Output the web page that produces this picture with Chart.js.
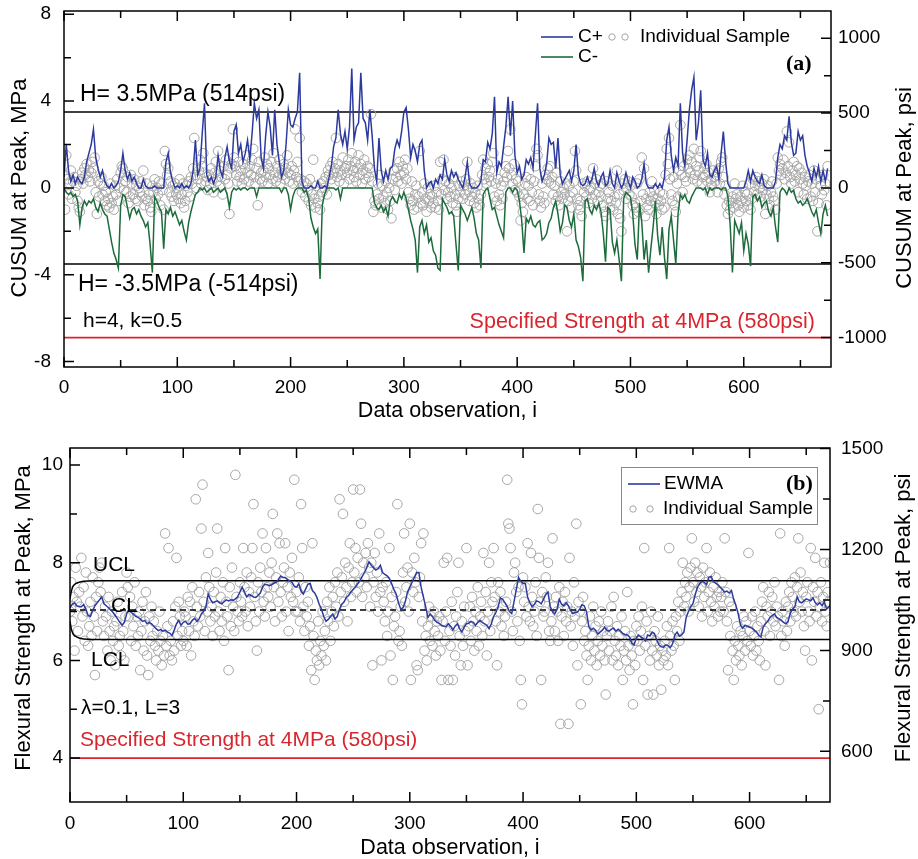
<!DOCTYPE html>
<html>
<head>
<meta charset="utf-8">
<script src="https://cdn.jsdelivr.net/npm/chart.js@4.4.1/dist/chart.umd.min.js"></script>
<style>
  body { margin: 0; background: #fff; }
  #wrap { position: relative; width: 918px; height: 859px; }
  canvas { position: absolute; left: 0; }
</style>
</head>
<body>
<div id="wrap">
  <canvas id="cusum" width="918" height="430" style="top:0"></canvas>
  <canvas id="ewma" width="918" height="429" style="top:430px"></canvas>
</div>
<script>
const FONT = "'Liberation Sans', Arial, sans-serif";
const PSI = 145.038;
const RED = '#d9262e';
const BLUE = '#2c3a9e';
const GREEN = '#1c6b3b';
const GREY = '#a6a6a6';

// control statistics were read every 2nd observation
const lineObs = Array.from({ length: 338 }, (_, k) => 2 * k);
const sampleObs = Array.from({ length: 675 }, (_, k) => k);

const cPlus = [
  0.5, 2.0, 0.8, 0.3, 0.6, 0.2, 0.5, 0.3, 0.2, 0.5, 1.2, 1.6, 2.0, 2.7, 1.4, 0.9, 0.5, 0.8, 0.3, 0.1, 0, 0.2, 0, 0.1, 0.3,
  0.8, 1.6, 0.8, 0.4, 0.7, 0.3, 0.5, 0.2, 0, 0, 0.4, 0.1, 0, 0, 0, 0.1, 0, 0, 0, 0, 1.2, 1.6, 0.7, 0.3, 0,
  0.1, 0, 0.2, 0, 0.1, 0, 0.2, 0.8, 2.2, 0.6, 0.9, 2.5, 3.9, 0.6, 0.3, 0.5, 0.2, 0.5, 1.5, 0.8, 0.5, 1.4, 1.9, 1.2, 0.9,
  2.6, 2.9, 1.6, 2.0, 1.2, 1.6, 2.2, 1.3, 2.5, 3.9, 3.2, 3.6, 1.4, 0.9, 2.4, 3.5, 2.8, 1.5, 3.6, 2.0, 1.2, 0.5, 0.8, 2.0, 3.6,
  2.9, 2.8, 3.2, 3.5, 5.3, 0.3, 0, 0, 0, 0.1, 0, 0, 0.3, 0, 0, 0.1, 0, 0.5, 1.0, 1.9, 2.3, 3.6, 2.5, 2.0, 2.6,
  1.8, 2.8, 5.5, 2.2, 2.8, 3.0, 5.3, 3.2, 3.0, 2.2, 3.6, 2.4, 0.9, 0.3, 2.3, 0.8, 0.3, 0.8, 0.4, 0.9, 1.0, 1.8, 2.2, 1.9, 2.6,
  3.5, 3.7, 2.7, 1.4, 2.0, 1.7, 1.2, 2.0, 2.2, 0.8, 0, 0.2, 0.3, 0, 0.4, 0.2, 0.6, 0.4, 1.3, 0.6, 0.3, 0.8, 0.5, 0.7, 0.4,
  0.2, 0, 0.5, 1.2, 0.2, 0, 0, 0, 0.1, 0.3, 1.3, 1.2, 2.1, 1.8, 2.5, 4.2, 0.7, 1.2, 1.0, 1.9, 2.8, 4.2, 2.4, 4.0, 1.5,
  0.7, 1.0, 0.4, 0.6, 1.3, 1.1, 1.4, 0.9, 2.4, 3.9, 0.9, 0.3, 0.6, 1.1, 2.3, 2.0, 2.1, 0.9, 2.3, 0.6, 0.2, 0.4, 0.6, 0.8, 0.3,
  0.8, 2.0, 0.6, 0.2, 0.1, 0.2, 0.5, 0.2, 0.4, 0.9, 0.3, 0.1, 0.5, 0.7, 0.1, 0.2, 0.8, 0.2, 0, 0.7, 0.3, 0, 0.2, 0.7, 0.3,
  0, 0.5, 0.3, 0, 0.1, 0.4, 1.1, 0.2, 0, 0, 0, 0.2, 0, 0.2, 0, 0.5, 2.2, 2.8, 1.5, 0.8, 1.4, 1.0, 3.9, 1.6, 1.0,
  2.2, 3.6, 4.5, 5.1, 2.2, 3.0, 4.5, 1.3, 1.0, 1.6, 0.6, 0.5, 0.8, 1.0, 0.4, 1.6, 2.6, 1.2, 0.2, 0, 0, 0, 0, 0, 0,
  0, 0.3, 0.8, 0.3, 0.8, 0.5, 0.3, 0.2, 0.6, 0.1, 0, 0, 0, 0, 0.3, 1.4, 2.0, 1.8, 2.4, 2.2, 3.3, 2.1, 1.5, 1.6, 2.6,
  2.2, 2.4, 1.5, 1.0, 0.7, 0.3, 0.9, 0.5, 1.0, 0.3, 0.8, 0.3, 0.9
];

const cMinus = [
  0, -0.2, -0.3, -0.2, -0.4, -0.3, -0.6, -1.7, -0.9, -0.6, -0.8, -0.6, -0.7, -0.5, -0.9, -1.1, -0.7, -1.0, -1.2, -1.3, -1.9, -2.5, -3.0, -3.3, -3.7,
  -0.8, -0.3, -0.4, -0.9, -1.4, -1.0, -0.9, -1.2, -1.0, -1.3, -1.5, -1.8, -1.6, -2.6, -3.9, -0.4, -0.6, -0.9, -1.1, -2.8, -1.0, -1.2, -0.9, -1.3, -1.1,
  -1.4, -1.7, -1.5, -2.0, -2.4, -1.6, -1.1, -0.7, -0.3, -0.2, 0, -0.1, 0, -0.2, -0.1, 0, -0.2, -0.1, 0, -0.2, -0.1, 0, -0.3, -0.9, -0.2,
  0, -0.1, 0, -0.1, 0, 0, -0.1, 0, 0, 0, -0.4, 0, 0, 0, 0, 0, 0, 0, 0, 0, 0, -0.2, 0, 0, -0.3,
  -1.0, -0.4, -0.1, 0, 0, 0, -0.2, -0.1, -0.5, -1.4, -1.8, -2.1, -1.9, -4.2, -0.8, -0.3, 0, 0, 0, 0, -0.1, 0, -0.5, 0, 0,
  0, 0, 0, 0, 0, 0, 0, 0, 0, 0, 0, 0, -0.7, -0.9, -1.0, -0.8, -1.1, -0.9, -1.3, -0.6, -0.4, -0.6, -0.7, -0.3, -0.5,
  -0.2, -0.5, -1.0, -1.5, -1.9, -2.4, -3.9, -1.8, -1.5, -2.1, -1.7, -2.5, -2.3, -2.9, -3.1, -3.7, -3.8, -0.5, -0.7, -0.9, -1.2, -1.1, -1.3, -2.6, -3.8,
  -0.8, -1.0, -1.2, -1.5, -1.2, -0.9, -1.4, -2.1, -2.4, -3.7, -0.3, -0.1, 0, -0.5, -1.0, -0.9, -1.3, -1.7, -2.0, -2.3, -0.2, 0, 0, -0.2, 0,
  -0.1, -0.6, -1.5, -3.0, -1.4, -1.6, -1.3, -1.7, -1.8, -1.6, -1.5, -2.4, -2.3, -2.1, -1.6, -1.4, -0.9, -0.6, -1.2, -2.0, -1.6, -0.8, -0.9, -1.5, -1.8,
  -1.2, -2.4, -2.7, -3.2, -4.3, -0.6, -0.5, -1.0, -1.2, -0.8, -1.0, -0.7, -1.1, -2.1, -3.4, -0.9, -1.0, -2.5, -3.0, -2.4, -3.3, -4.3, -0.5, -0.2, -0.3,
  -0.4, -1.2, -2.6, -3.3, -0.7, -1.6, -3.3, -2.4, -3.9, -2.8, -1.8, -0.6, -2.2, -3.1, -1.8, -3.2, -4.2, -1.9, -1.3, -2.4, -3.5, -1.2, -0.3, -0.5, -0.3,
  -0.6, -0.7, -0.4, -0.2, 0, 0, 0, -0.1, 0, -0.3, 0, -0.1, 0, 0, 0, -0.1, 0, 0, -0.4, -1.7, -3.9, -1.5, -1.8, -2.1, -1.6,
  -2.9, -2.1, -2.6, -3.6, -0.4, -0.3, -0.6, -0.4, -0.9, -0.7, -0.6, -1.1, -1.3, -0.9, -1.8, -2.5, -0.2, 0, -0.1, -0.3, 0, -0.2, -0.1, -0.5, -0.7,
  -0.6, -0.8, -0.7, -0.5, -0.8, -1.1, -1.3, -1.0, -1.6, -2.1, -1.2, -0.8, -1.3
];

const cusumSample = [
  0.6, -1.0, 1.5, 0.4, -0.3, 0.2, 0.8, -0.5, 0.3, 0.5, -0.2, 0.1, -0.6, -0.9, -1.1, 0.4, 0.7, 0.2, 0.9, 0.6, 1.1, 0.5, 0.8, 0.3, 0.7,
  1.2, 0.9, 1.4, -0.2, -1.2, 0.3, -0.4, 0.2, 0.5, -0.3, 0.1, -0.6, -0.2, -0.8, -0.5, -0.9, 0.2, -0.7, -0.4, -1.0, 0.1, -0.3, 0.4, -0.6, 0.0,
  0.7, 1.0, 0.9, -0.1, 0.3, -0.2, 0.5, -0.7, -0.4, 0.6, 0.2, -0.3, 0.4, -0.5, 0.1, -0.6, 0.0, -0.2, 0.3, -0.4, 0.8, -0.8, -0.5, 0.2, -0.6,
  -0.3, -0.9, -1.1, 0.1, -0.2, 0.4, -0.5, 0.0, -0.3, 0.3, -0.8, 0.2, -0.1, -1.0, 1.7, 1.1, 0.6, 0.9, -0.2, 0.3, -0.4, 0.1, -0.6, 0.2, -0.3,
  0.0, -0.5, 0.4, -0.7, -0.3, 0.2, -0.9, -0.6, 0.1, -0.2, 0.3, -0.4, 0.5, 0.2, 0.9, 2.3, 0.6, 0.0, 0.4, 0.8, 1.3, 0.2, 1.0, 1.6, 0.7,
  0.3, 0.5, -0.1, 0.6, 0.2, 0.9, 0.4, -0.2, 0.7, 1.2, 0.3, 1.7, 0.8, 0.1, 0.5, -0.3, 1.0, 0.4, 1.3, 0.6, 0.2, -1.2, 0.9, 1.1, 2.7,
  1.4, 1.0, 0.6, 0.3, 1.2, 0.5, 0.8, 0.2, 1.1, 0.4, 0.9, 1.5, 0.7, 0.3, 1.0, 0.6, 1.3, 1.8, 0.5, 0.2, 0.9, -0.8, 1.2, 0.4, 0.7,
  0.3, 0.8, 1.4, 0.5, 1.1, 0.2, 0.9, 0.6, 1.2, 0.4, 1.6, 0.7, 0.3, 1.0, 0.5, 1.3, 0.2, 0.8, 0.6, 1.1, 0.4, 0.9, 1.5, 0.7, 0.3,
  0.6, 1.0, 0.2, 0.8, 2.7, 0.5, 1.2, 0.3, 2.3, 0.4, -0.2, 0.1, 0.3, -0.4, 0.2, -0.1, -0.6, 0.4, -0.8, -0.3, 1.3, -0.5, -0.9, 0.1, -0.7,
  -0.4, -1.0, 0.2, -0.2, 0.3, 0.0, 0.5, -0.3, 0.8, 0.6, 1.0, 0.4, 1.2, 0.7, 0.9, 2.3, 0.5, 1.1, 0.3, 0.8, 0.6, 1.4, 0.2, 0.9, 1.0,
  0.7, 1.3, 0.4, 1.0, 1.6, 0.8, 0.5, 1.2, 0.3, 0.9, 1.5, 0.6, 1.1, 0.2, 0.8, 1.3, 0.4, 0.7, 1.0, 0.5, 0.9, 3.4, 0.3, -1.1, -0.6,
  -0.8, -0.3, 0.2, -0.5, 0.6, -0.9, 0.1, -0.4, -0.7, 0.3, -0.2, -1.0, 0.0, -0.6, -1.4, 0.4, 0.8, -0.1, 0.5, 0.9, 0.3, 1.2, 0.6, 0.2, 1.0,
  0.7, 1.3, 0.4, 0.9, -0.2, -0.5, -0.8, 0.3, -0.6, -1.0, -0.3, 0.1, -0.9, -0.4, 1.7, -0.7, -0.2, -0.8, 0.2, -0.5, -1.1, 0.0, -0.6, -0.3, -0.9,
  -0.4, -0.7, 0.1, -0.9, -0.2, -0.6, -1.0, 1.2, -0.3, 0.4, 1.3, -0.1, 0.3, -0.5, -0.2, 0.2, -0.4, 0.0, -0.7, 0.5, -0.3, -0.8, -1.1, -0.5, 0.1,
  -0.2, 0.3, -0.5, 0.1, -0.3, 0.4, 1.2, -0.1, -0.6, 0.2, -0.4, 0.0, -0.7, -0.2, -0.9, 0.1, -0.5, -0.8, -0.3, 0.6, 1.3, 0.4, 0.9, 0.2, 1.1,
  0.5, 0.8, 0.3, 1.2, 1.6, -0.4, 0.2, -0.6, 0.4, -0.3, -0.8, 0.1, -0.5, 0.3, 0.7, 1.0, 0.5, 1.7, 0.9, 2.7, 0.6, 0.2, 1.1, -0.1, 0.4,
  -0.2, 0.3, -0.4, -1.5, -0.7, -1.1, -0.3, 0.2, 0.5, -0.5, 0.1, -0.6, 0.4, -0.2, -0.8, 0.3, 1.0, 1.8, 1.5, -0.3, -0.6, -0.9, 0.2, -0.4, -0.7,
  0.6, 0.4, 0.9, 0.3, 1.0, 0.2, 0.5, -0.3, 0.1, -0.6, 0.7, -0.4, -0.8, 0.3, -0.2, -0.5, 0.0, -0.3, 0.2, -2.0, -0.6, 0.1, -0.4, -0.9, -0.2,
  0.3, 1.7, 0.8, -0.5, -0.8, -1.0, -0.6, -1.3, 0.2, -0.2, 0.1, -0.4, 0.3, -0.7, -0.1, 0.0, -0.5, 0.9, 0.2, -0.3, 0.4, -0.6, -0.2, 0.1, -0.4,
  0.2, -0.8, -1.1, -1.3, 0.3, -0.5, -0.2, -0.9, -0.6, 0.1, -1.0, -0.4, -0.7, 0.8, -1.2, -0.3, -1.4, -2.0, 0.2, -0.1, 0.4, -0.5, 0.0, 0.3, -0.3,
  0.1, -0.4, -0.8, -1.2, -0.7, -0.9, 0.2, -1.1, 0.4, -0.6, 1.4, -0.3, 0.9, -1.3, -0.5, -0.8, -1.0, -0.2, -0.6, 0.3, -0.4, -0.1, -0.7, -1.2, -0.5,
  -0.8, -0.2, -0.6, -1.0, -0.3, -0.9, 0.6, 1.8, 1.1, 2.3, 0.4, -0.3, -0.6, 0.5, -0.8, -1.1, 0.2, -0.4, 0.8, 2.9, 0.6, -0.2, 1.0, 0.5, 0.3,
  1.3, 0.9, 1.5, 0.7, 1.2, 0.4, 1.8, 0.6, 1.0, 0.3, 0.8, 1.4, 1.7, 0.2, 0.5, 0.9, 0.6, 1.1, 0.3, 0.7, -0.2, 0.4, 0.1, 0.8, 0.5,
  0.3, 0.6, -0.2, 0.9, 0.2, 1.2, 1.4, 0.5, -0.3, 0.1, -0.8, -1.2, -0.6, -1.0, -0.7, -0.4, -0.9, 0.2, -0.5, -0.3, -0.8, -1.1, -0.4, -0.6, 0.1,
  -0.9, -0.2, -0.6, -0.3, -0.8, 0.2, -1.0, -0.5, 0.4, -0.2, 0.1, 0.5, -0.3, 0.3, 0.0, -0.4, 0.2, -0.1, 0.4, -1.2, -0.3, 0.1, -0.5, -0.8, -0.2,
  0.3, -0.4, -0.6, -1.0, 0.2, 1.4, 0.8, 1.1, 0.6, 0.9, 1.3, 0.4, 0.7, 2.6, 1.0, 2.1, 0.5, 0.2, 0.8, 1.2, 0.3, 0.6, 1.0, -0.2, 0.9,
  0.4, 0.7, 0.2, -0.3, 0.5, 0.1, -0.5, 0.3, 0.6, -0.4, 0.2, -0.6, 0.8, -0.2, 0.4, -2.0, -0.7, 0.5, 0.1, -0.3, 0.6, -0.1, 0.2, -0.8, 1.0
];

const ewma = [
  7.08, 7.15, 7.18, 7.12, 7.10, 7.10, 7.14, 7.05, 6.92, 6.90, 7.02, 7.12, 7.18, 7.24, 7.30, 7.16, 7.12, 7.08, 7.03, 6.98, 6.92, 6.85, 6.78, 6.72, 6.78,
  6.95, 7.05, 6.98, 6.95, 6.90, 6.88, 6.85, 6.80, 6.82, 6.75, 6.78, 6.75, 6.70, 6.65, 6.61, 6.63, 6.60, 6.62, 6.58, 6.56, 6.51, 6.62, 6.75, 6.82, 6.72,
  6.78, 6.80, 6.74, 6.75, 6.82, 6.86, 6.80, 6.85, 6.95, 7.00, 7.10, 7.36, 7.25, 7.18, 7.20, 7.22, 7.18, 7.16, 7.20, 7.24, 7.22, 7.24, 7.23, 7.26, 7.30,
  7.40, 7.50, 7.40, 7.30, 7.35, 7.33, 7.30, 7.29, 7.33, 7.38, 7.50, 7.56, 7.55, 7.53, 7.55, 7.58, 7.60, 7.66, 7.73, 7.70, 7.70, 7.66, 7.63, 7.60, 7.52,
  7.50, 7.57, 7.42, 7.36, 7.46, 7.56, 7.58, 7.43, 7.38, 7.29, 7.15, 7.05, 6.90, 6.80, 6.84, 6.90, 6.95, 6.85, 6.90, 7.05, 7.15, 7.20, 7.29, 7.33, 7.40,
  7.45, 7.50, 7.57, 7.63, 7.72, 7.80, 7.90, 8.02, 7.95, 7.90, 7.85, 7.88, 7.95, 7.80, 7.76, 7.73, 7.68, 7.57, 7.45, 7.36, 7.18, 7.05, 7.08, 7.20, 7.40,
  7.50, 7.60, 7.70, 7.80, 7.80, 7.50, 7.30, 7.10, 6.88, 6.95, 6.90, 6.82, 6.78, 6.76, 6.72, 6.70, 6.69, 6.75, 6.70, 6.62, 6.70, 6.75, 6.65, 6.58, 6.68,
  6.75, 6.76, 6.80, 6.78, 6.72, 6.78, 6.82, 6.78, 6.75, 6.72, 6.65, 6.75, 6.90, 6.98, 7.10, 7.28, 7.25, 7.18, 7.10, 7.00, 6.96, 7.20, 7.45, 7.70, 7.62,
  7.58, 7.57, 7.30, 7.18, 7.10, 7.15, 7.22, 7.20, 7.16, 7.25, 7.35, 7.40, 7.10, 7.00, 6.95, 7.05, 7.25, 7.15, 7.12, 7.18, 7.12, 7.02, 6.96, 6.98, 6.99,
  7.05, 7.14, 7.12, 7.00, 6.70, 6.62, 6.66, 6.62, 6.54, 6.58, 6.62, 6.68, 6.62, 6.60, 6.64, 6.66, 6.60, 6.64, 6.60, 6.55, 6.53, 6.52, 6.48, 6.35, 6.32,
  6.46, 6.52, 6.48, 6.45, 6.40, 6.52, 6.50, 6.58, 6.55, 6.42, 6.32, 6.28, 6.27, 6.32, 6.30, 6.26, 6.34, 6.52, 6.58, 6.50, 6.52, 6.58, 6.88, 7.00, 7.10,
  7.16, 7.35, 7.50, 7.57, 7.62, 7.60, 7.55, 7.70, 7.72, 7.62, 7.58, 7.55, 7.50, 7.45, 7.40, 7.42, 7.38, 7.43, 7.25, 7.12, 6.95, 6.72, 6.66, 6.72, 6.70,
  6.68, 6.66, 6.62, 6.58, 6.52, 6.48, 6.68, 6.75, 6.80, 6.88, 6.92, 6.95, 6.88, 6.85, 6.82, 6.78, 6.75, 6.80, 6.97, 7.05, 7.10, 7.30, 7.20, 7.18, 7.22,
  7.26, 7.24, 7.22, 7.28, 7.18, 7.14, 7.18, 7.12, 7.20, 7.05, 7.10, 7.15, 7.05
];

const ewmaSample = [
  7.0, 7.6, 6.8, 7.3, 6.2, 7.9, 7.2, 6.6, 7.4, 7.1, 8.1, 6.9, 7.5, 6.4, 7.8, 7.0, 6.3, 6.7, 7.2, 6.5, 7.7, 6.9, 5.7, 7.3, 6.6,
  7.6, 7.9, 7.4, 8.0, 6.8, 6.5, 7.1, 6.9, 6.2, 7.3, 6.6, 6.0, 7.0, 6.4, 6.7, 5.9, 6.8, 7.2, 6.3, 6.5, 6.1, 7.4, 6.6, 6.0, 6.9,
  7.8, 7.5, 6.9, 7.3, 6.4, 7.1, 6.7, 7.6, 6.3, 6.9, 6.5, 7.0, 5.8, 6.6, 7.2, 6.2, 6.8, 7.4, 6.1, 5.7, 6.9, 6.4, 7.1, 6.5, 6.8,
  6.3, 6.0, 6.6, 6.2, 7.0, 6.4, 5.9, 6.5, 6.1, 8.6, 6.3, 6.7, 8.3, 6.1, 6.4, 6.0, 6.8, 6.2, 7.1, 8.1, 6.5, 7.2, 6.9, 6.3, 6.6,
  6.4, 7.0, 6.9, 6.3, 7.3, 6.6, 7.2, 6.1, 7.5, 6.8, 6.5, 9.3, 7.1, 6.7, 7.4, 6.9, 8.7, 9.6, 7.2, 6.6, 7.7, 7.0, 8.2, 7.5, 6.8,
  7.1, 6.5, 7.4, 6.9, 7.8, 8.7, 7.0, 6.6, 7.3, 6.8, 7.6, 6.4, 8.3, 7.2, 6.9, 5.8, 7.5, 6.7, 7.9, 7.1, 6.6, 9.8, 7.3, 7.0, 6.8,
  7.6, 7.2, 6.9, 8.3, 7.5, 7.0, 7.8, 6.7, 7.4, 7.1, 7.7, 8.3, 9.2, 7.3, 6.8, 6.2, 7.6, 7.0, 7.9, 7.4, 8.6, 7.2, 6.9, 8.3, 7.5,
  7.3, 7.8, 7.1, 8.0, 9.0, 7.5, 6.8, 7.7, 8.6, 7.2, 8.4, 7.4, 6.9, 7.6, 7.9, 8.4, 7.0, 7.5, 6.6, 7.8, 7.3, 8.1, 7.2, 9.7, 7.0,
  7.4, 7.0, 7.7, 6.8, 9.2, 8.3, 7.1, 6.6, 7.5, 6.9, 7.2, 6.3, 6.7, 5.8, 8.4, 6.5, 5.6, 6.2, 6.0, 6.8, 5.9, 6.4, 6.1, 7.0, 6.3,
  6.6, 6.0, 7.2, 6.8, 7.5, 6.4, 7.0, 7.3, 6.7, 7.6, 7.1, 7.8, 6.9, 9.3, 7.4, 7.7, 9.0, 7.2, 8.0, 7.5, 6.8, 7.9, 8.4, 7.3, 7.6,
  9.5, 7.8, 8.3, 7.4, 8.1, 7.6, 9.5, 8.8, 7.3, 8.0, 7.7, 8.2, 7.5, 8.4, 7.9, 7.1, 8.0, 5.9, 7.6, 8.2, 7.3, 7.8, 7.0, 8.6, 7.4,
  6.0, 7.5, 7.2, 6.8, 7.6, 6.5, 7.0, 8.3, 6.1, 7.3, 5.6, 6.7, 6.9, 7.4, 9.2, 6.4, 6.6, 7.1, 6.3, 7.8, 8.6, 7.2, 7.5, 7.9, 7.0,
  8.8, 5.6, 7.8, 7.4, 8.1, 7.6, 5.9, 5.8, 7.3, 7.7, 8.4, 6.8, 8.6, 6.2, 6.5, 6.0, 6.7, 7.1, 6.4, 6.9, 6.3, 7.0, 6.6, 6.1, 6.8,
  6.5, 6.9, 6.2, 5.6, 6.8, 8.0, 6.4, 7.0, 8.1, 5.6, 6.6, 6.3, 7.2, 5.6, 6.7, 6.1, 6.9, 7.4, 8.0, 6.5, 5.9, 6.8, 6.3, 7.1, 6.6,
  8.3, 5.9, 6.7, 7.1, 6.4, 7.3, 6.8, 6.2, 7.0, 6.6, 7.5, 6.3, 6.9, 7.2, 6.5, 8.2, 6.8, 7.4, 6.1, 7.0, 8.0, 6.6, 7.6, 7.2, 8.3,
  7.3, 6.8, 5.9, 7.6, 7.0, 7.4, 6.7, 7.1, 6.5, 6.9, 7.2, 9.7, 8.8, 8.7, 8.3, 7.0, 6.6, 7.8, 8.0, 7.4, 6.8, 7.5, 6.4, 5.6, 5.1,
  7.7, 7.2, 7.5, 6.9, 8.4, 7.1, 6.8, 8.2, 7.3, 6.7, 7.0, 7.6, 6.5, 9.1, 8.1, 7.2, 5.6, 7.4, 6.9, 7.0, 7.7, 7.3, 8.0, 6.6, 6.4,
  6.8, 8.5, 7.1, 6.6, 7.3, 7.0, 6.4, 7.5, 4.7, 6.9, 7.2, 6.5, 7.4, 6.8, 7.1, 4.7, 8.1, 6.7, 7.0, 6.3, 7.6, 6.9, 8.8, 5.9, 7.2,
  7.0, 5.1, 6.8, 7.3, 6.4, 6.6, 6.1, 5.6, 6.3, 6.9, 6.0, 6.5, 7.1, 6.2, 6.7, 5.9, 6.4, 6.8, 6.1, 7.0, 6.3, 6.6, 6.0, 5.3, 6.5,
  6.8, 6.2, 6.6, 7.1, 6.0, 7.3, 6.4, 6.1, 6.7, 5.9, 6.5, 6.3, 6.9, 5.6, 6.2, 6.6, 6.0, 7.4, 6.3, 5.8, 6.5, 6.1, 5.1, 6.4, 5.9,
  6.7, 6.4, 6.9, 6.2, 6.6, 7.1, 5.6, 8.3, 6.3, 6.8, 5.3, 6.5, 6.0, 7.0, 6.2, 5.3, 6.6, 6.4, 6.1, 6.9, 5.9, 6.3, 5.4, 6.2, 6.0,
  6.4, 6.1, 6.7, 5.9, 8.3, 6.5, 6.2, 6.8, 6.3, 5.6, 6.9, 6.6, 7.2, 6.4, 7.0, 7.4, 8.0, 7.1, 7.6, 7.3, 7.8, 7.0, 7.5, 7.9, 8.5,
  7.6, 7.2, 8.0, 7.4, 7.8, 7.1, 7.7, 7.5, 6.9, 7.9, 7.3, 7.6, 8.3, 7.0, 7.4, 7.8, 7.2, 6.8, 7.5, 7.1, 7.7, 7.3, 6.9, 7.4, 7.0,
  7.3, 7.6, 7.0, 8.5, 7.4, 6.8, 5.8, 7.2, 6.5, 7.1, 6.2, 5.6, 6.4, 6.0, 6.7, 6.3, 6.1, 6.6, 5.9, 6.5, 6.9, 6.2, 6.8, 6.4, 8.2,
  6.6, 6.3, 6.9, 6.1, 6.5, 7.0, 6.2, 6.7, 6.4, 6.0, 6.8, 7.2, 7.5, 6.6, 5.9, 7.1, 6.9, 7.4, 6.5, 7.0, 7.3, 6.8, 7.6, 6.7, 7.1,
  6.9, 5.6, 8.6, 6.5, 7.0, 6.8, 6.3, 7.2, 6.6, 7.1, 7.4, 6.8, 7.6, 7.3, 7.0, 7.7, 6.9, 7.5, 8.5, 7.2, 7.8, 7.0, 7.4, 6.7, 6.2,
  7.3, 7.6, 7.0, 6.8, 8.3, 6.0, 7.5, 7.2, 8.1, 6.9, 7.4, 5.0, 7.1, 7.6, 6.8, 7.3, 8.0, 7.0, 6.7, 7.4, 7.2, 8.0, 6.9, 7.5, 7.1
];

// limits and reference levels, MPa
const hLimit = 3.5;
const cusumSpec = -6.9;
const strengthSpec = 4.0;
const centerLine = 7.03;
const limitObs = [0, 1, 2, 3, 5, 8, 12, 20, 674];
const uclVals = [7.26, 7.40, 7.48, 7.53, 7.57, 7.60, 7.62, 7.63, 7.63];
const lclVals = [6.80, 6.66, 6.58, 6.53, 6.49, 6.46, 6.44, 6.43, 6.43];

const xMajor = [0, 100, 200, 300, 400, 500, 600];
const xMinor = [50, 150, 250, 350, 450, 550, 650];
const cusumTicks = [-8, -4, 0, 4, 8];
const cusumMinor = [-6, -2, 2, 6];
const cusumPsiTicks = [-1000, -500, 0, 500, 1000];
const cusumPsiMinor = [-750, -250, 250, 750];
const strengthTicks = [4, 6, 8, 10];
const strengthMinor = [5, 7, 9];
const strengthPsiTicks = [600, 900, 1200, 1500];
const strengthPsiMinor = [750, 1050, 1350];

const pts = (xs, ys) => ys.map((y, i) => ({ x: xs[i], y }));
const flat = (x0, x1, y) => [{ x: x0, y }, { x: x1, y }];

function lineSet(data, color, order, extra) {
  return Object.assign({ data, showLine: true, borderColor: color, borderWidth: 1.5,
    pointRadius: 0, tension: 0, order }, extra || {});
}
function sampleSet(data, order) {
  return { data, showLine: false, pointStyle: 'circle', pointRadius: 4.8,
    pointBorderColor: GREY, pointBackgroundColor: 'rgba(0,0,0,0)', pointBorderWidth: 1, order };
}

function setTicks(list) {
  return s => { s.ticks = list.map(v => ({ value: v })); };
}

// fixed axis sizes, and no extra room for overhanging tick labels
function fitV(w) {
  return s => { s.width = w; s.paddingTop = 0; s.paddingBottom = 0; };
}
function fitH(h) {
  return s => { s.height = h; s.paddingLeft = 0; s.paddingRight = 0; };
}

function scalesFor(o) {
  const tickFont = { family: FONT, size: 19 };
  const plain = v => String(v);
  const grid = { display: false, drawTicks: false, tickLength: 0 };
  return {
    x: { type: 'linear', min: 0, max: o.xMax, grid, border: { display: false },
      ticks: { font: tickFont, color: '#000', padding: o.padX, maxRotation: 0, autoSkip: false, callback: plain },
      afterBuildTicks: setTicks(xMajor), afterFit: fitH(o.xH) },
    y: { position: 'left', min: o.yMin, max: o.yMax, grid, border: { display: false },
      ticks: { font: tickFont, color: '#000', padding: o.padL, autoSkip: false, callback: plain },
      afterBuildTicks: setTicks(o.leftTicks), afterFit: fitV(o.wL) },
    yR: { position: 'right', min: o.yMin * PSI, max: o.yMax * PSI, grid, border: { display: false },
      ticks: { font: tickFont, color: '#000', padding: o.padR, autoSkip: false, callback: plain },
      afterBuildTicks: setTicks(o.rightTicks), afterFit: fitV(o.wR) }
  };
}

function vText(ctx, text, x, y) {
  ctx.save();
  ctx.translate(x, y);
  ctx.rotate(-Math.PI / 2);
  ctx.fillText(text, 0, 0);
  ctx.restore();
}

function makeDecor(spec) {
  return {
    id: 'decor',
    afterDraw(chart) {
      const { ctx, chartArea: a, scales } = chart;
      const xs = scales.x, yl = scales.y, yr = scales.yR;
      ctx.save();
      ctx.strokeStyle = '#000';
      ctx.lineWidth = 1.5;
      ctx.strokeRect(a.left, a.top, a.right - a.left, a.bottom - a.top);

      // inward ticks on all four sides
      ctx.beginPath();
      const seg = (x1, y1, x2, y2) => { ctx.moveTo(x1, y1); ctx.lineTo(x2, y2); };
      const xt = (v, len) => { const p = xs.getPixelForValue(v); seg(p, a.bottom, p, a.bottom - len); seg(p, a.top, p, a.top + len); };
      xMajor.forEach(v => xt(v, 10));
      xMinor.forEach(v => xt(v, 7));
      spec.leftMajor.forEach(v => { const p = yl.getPixelForValue(v); seg(a.left, p, a.left + 10, p); });
      spec.leftMinor.forEach(v => { const p = yl.getPixelForValue(v); seg(a.left, p, a.left + 7, p); });
      spec.rightMajor.forEach(v => { const p = yr.getPixelForValue(v); seg(a.right, p, a.right - 10, p); });
      spec.rightMinor.forEach(v => { const p = yr.getPixelForValue(v); seg(a.right, p, a.right - 7, p); });
      ctx.stroke();

      // axis titles
      ctx.fillStyle = '#000';
      ctx.textAlign = 'center';
      ctx.textBaseline = 'middle';
      ctx.font = '21.5px ' + FONT;
      ctx.fillText('Data observation, i', (a.left + a.right) / 2, spec.xTitleY);
      ctx.font = '22px ' + FONT;
      vText(ctx, spec.leftTitle, spec.leftTitleX, spec.titleY);
      vText(ctx, spec.rightTitle, spec.rightTitleX, spec.titleY);

      // annotations
      spec.texts.forEach(t => {
        ctx.font = (t.size || 21) + 'px ' + FONT;
        ctx.fillStyle = t.color || '#000';
        ctx.textAlign = t.align || 'left';
        ctx.fillText(t.t, t.x, t.y);
      });
      spec.legend(ctx);
      ctx.restore();
    }
  };
}

function legendLine(ctx, x, y, color) {
  ctx.strokeStyle = color;
  ctx.lineWidth = 1.6;
  ctx.beginPath();
  ctx.moveTo(x, y);
  ctx.lineTo(x + 32, y);
  ctx.stroke();
}
function legendCircles(ctx, x, y, gap) {
  ctx.strokeStyle = GREY;
  ctx.lineWidth = 1;
  [x, x + gap].forEach(cx => { ctx.beginPath(); ctx.arc(cx, y, 3.2, 0, Math.PI * 2); ctx.stroke(); });
}

// ---------- (a) CUSUM ----------
const xMaxA = 677;
new Chart(document.getElementById('cusum'), {
  type: 'scatter',
  data: {
    datasets: [
      lineSet(pts(lineObs, cPlus), BLUE, 1),
      lineSet(pts(lineObs, cMinus), GREEN, 2),
      sampleSet(pts(sampleObs, cusumSample), 3),
      lineSet(flat(0, xMaxA, hLimit), '#000', 4),
      lineSet(flat(0, xMaxA, -hLimit), '#000', 4),
      lineSet(flat(0, xMaxA, cusumSpec), RED, 4, { borderWidth: 1.8 })
    ]
  },
  options: {
    responsive: false, animation: false, events: [],
    layout: { padding: { top: 11, left: 0, right: 0, bottom: 0 } },
    plugins: { legend: { display: false }, tooltip: { enabled: false } },
    scales: scalesFor({ xMax: xMaxA, xH: 63, yMin: -8.25, yMax: 8.15, wL: 64, wR: 87,
      padL: 13, padR: 7, padX: 9, leftTicks: cusumTicks, rightTicks: cusumPsiTicks })
  },
  plugins: [makeDecor({
    leftMajor: cusumTicks, leftMinor: cusumMinor, rightMajor: cusumPsiTicks, rightMinor: cusumPsiMinor,
    xTitleY: 411, titleY: 188, leftTitle: 'CUSUM at Peak, MPa', rightTitle: 'CUSUM at Peak, psi',
    leftTitleX: 20, rightTitleX: 905,
    texts: [
      { t: 'H= 3.5MPa (514psi)', x: 80, y: 95, size: 23 },
      { t: 'H= -3.5MPa (-514psi)', x: 78, y: 285, size: 23 },
      { t: 'h=4, k=0.5', x: 83, y: 321 },
      { t: 'Specified Strength at 4MPa (580psi)', x: 815, y: 322, color: RED, align: 'right', size: 21.5 }
    ],
    legend(ctx) {
      legendLine(ctx, 541, 37, BLUE);
      legendLine(ctx, 541, 57, GREEN);
      legendCircles(ctx, 612, 37, 13);
      ctx.fillStyle = '#000';
      ctx.textAlign = 'left';
      ctx.font = '19px ' + FONT;
      ctx.fillText('C+', 578, 37);
      ctx.fillText('Individual Sample', 640, 37);
      ctx.fillText('C-', 578, 57);
      ctx.font = 'bold 22px "Liberation Serif", "Times New Roman", serif';
      ctx.fillText('(a)', 786, 64);
    }
  })]
});

// ---------- (b) EWMA ----------
const xMaxB = 671;
new Chart(document.getElementById('ewma'), {
  type: 'scatter',
  data: {
    datasets: [
      lineSet(pts(lineObs, ewma), BLUE, 1),
      lineSet(pts(limitObs, uclVals), '#000', 2, { cubicInterpolationMode: 'monotone' }),
      lineSet(pts(limitObs, lclVals), '#000', 2, { cubicInterpolationMode: 'monotone' }),
      lineSet(flat(0, xMaxB, centerLine), '#000', 2, { borderDash: [6, 4] }),
      sampleSet(pts(sampleObs, ewmaSample), 3),
      lineSet(flat(0, xMaxB, strengthSpec), RED, 4, { borderWidth: 1.8 })
    ]
  },
  options: {
    responsive: false, animation: false, events: [],
    layout: { padding: { top: 18, left: 0, right: 0, bottom: 0 } },
    plugins: { legend: { display: false }, tooltip: { enabled: false } },
    scales: scalesFor({ xMax: xMaxB, xH: 57, yMin: 3.1, yMax: 10.35, wL: 70, wR: 88,
      padL: 7, padR: 11, padX: 10, leftTicks: strengthTicks, rightTicks: strengthPsiTicks })
  },
  plugins: [makeDecor({
    leftMajor: strengthTicks, leftMinor: strengthMinor, rightMajor: strengthPsiTicks, rightMinor: strengthPsiMinor,
    xTitleY: 418, titleY: 188, leftTitle: 'Flexural Strength at Peak, MPa', rightTitle: 'Flexural Strength at Peak, psi',
    leftTitleX: 24, rightTitleX: 904,
    texts: [
      { t: 'UCL', x: 93, y: 135 },
      { t: 'CL', x: 111, y: 176 },
      { t: 'LCL', x: 91, y: 230 },
      { t: 'λ=0.1, L=3', x: 81, y: 278 },
      { t: 'Specified Strength at 4MPa (580psi)', x: 80, y: 310, color: RED }
    ],
    legend(ctx) {
      ctx.fillStyle = '#fff';
      ctx.fillRect(621, 37, 196, 57);
      ctx.strokeStyle = '#8a8a8a';
      ctx.lineWidth = 1;
      ctx.strokeRect(621.5, 37.5, 196, 57);
      legendLine(ctx, 628, 54, BLUE);
      legendCircles(ctx, 633, 79, 17);
      ctx.fillStyle = '#000';
      ctx.textAlign = 'left';
      ctx.font = '19px ' + FONT;
      ctx.fillText('EWMA', 664, 54);
      ctx.fillText('Individual Sample', 663, 79);
      ctx.font = 'bold 22px "Liberation Serif", "Times New Roman", serif';
      ctx.fillText('(b)', 786, 54);
    }
  })]
});
</script>
</body>
</html>
